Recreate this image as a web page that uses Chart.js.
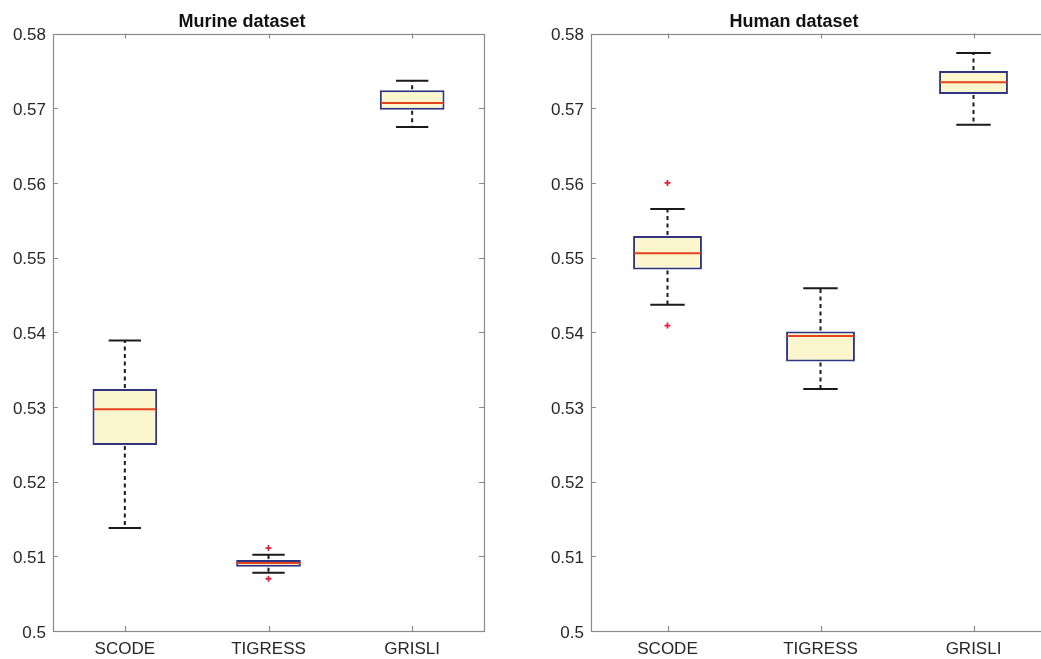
<!DOCTYPE html>
<html>
<head>
<meta charset="utf-8">
<script src="https://cdn.jsdelivr.net/npm/chart.js@4.4.1/dist/chart.umd.min.js"></script>
<style>
  html, body { margin: 0; padding: 0; background: #fff; overflow: hidden; width: 1041px; height: 659px; }
  canvas { position: absolute; top: 0; }
  #murineChart { left: 0; }
  #humanChart { left: 538px; }
</style>
</head>
<body>
<canvas id="murineChart" width="500" height="659"></canvas>
<canvas id="humanChart" width="528" height="659"></canvas>
<script>
const categories = ['SCODE', 'TIGRESS', 'GRISLI'];
const yTicks = [0.5, 0.51, 0.52, 0.53, 0.54, 0.55, 0.56, 0.57, 0.58];

// Murine dataset
const murineLow      = [0.5138, 0.5078, 0.5675];
const murineQ1       = [0.5249, 0.5086, 0.5698];
const murineMedian   = [0.5297, 0.5091, 0.5707];
const murineQ3       = [0.5324, 0.5095, 0.5724];
const murineHigh     = [0.5389, 0.5102, 0.5737];
const murineOutliers = [[], [0.5111, 0.5070], []];

// Human dataset
const humanLow      = [0.5437, 0.5324, 0.5678];
const humanQ1       = [0.5484, 0.5361, 0.5719];
const humanMedian   = [0.5506, 0.5395, 0.5735];
const humanQ3       = [0.5529, 0.5401, 0.5750];
const humanHigh     = [0.5565, 0.5459, 0.5774];
const humanOutliers = [[0.5600, 0.5409], [], []];

const FONT = 'Liberation Sans, Arial, Helvetica, sans-serif';

// whiskers, caps, medians and the matlab style box around the axes
function boxPlugin(low, high, median) {
    return {
        id: 'boxes',
        beforeDatasetsDraw(chart) {
            const ctx = chart.ctx, a = chart.chartArea;
            const xs = chart.scales.x, ys = chart.scales.y;
            ctx.save();
            ctx.strokeStyle = '#8a8a8a';
            ctx.lineWidth = 1.2;
            ctx.strokeRect(Math.round(a.left) + 0.5, Math.round(a.top) + 0.5,
                Math.round(a.right - a.left), Math.round(a.bottom - a.top));
            ctx.beginPath();
            yTicks.forEach(function (v) {
                const y = Math.round(ys.getPixelForValue(v)) + 0.5;
                ctx.moveTo(a.left, y); ctx.lineTo(a.left + 5, y);
                ctx.moveTo(a.right - 5, y); ctx.lineTo(a.right, y);
            });
            categories.forEach(function (c, i) {
                const x = Math.round(xs.getPixelForValue(i)) + 0.5;
                ctx.moveTo(x, a.bottom); ctx.lineTo(x, a.bottom - 5);
                ctx.moveTo(x, a.top); ctx.lineTo(x, a.top + 5);
            });
            ctx.stroke();
            ctx.restore();
        },
        afterDatasetsDraw(chart) {
            const ctx = chart.ctx;
            const xs = chart.scales.x, ys = chart.scales.y;
            const bars = chart.getDatasetMeta(0).data;
            ctx.save();
            categories.forEach(function (c, i) {
                const x = xs.getPixelForValue(i);
                const w = bars[i].width;
                const yQ1 = ys.getPixelForValue(chart.data.datasets[0].data[i][0]);
                const yQ3 = ys.getPixelForValue(chart.data.datasets[0].data[i][1]);
                const yLo = ys.getPixelForValue(low[i]);
                const yHi = ys.getPixelForValue(high[i]);
                const yMed = ys.getPixelForValue(median[i]);

                // dashed whiskers
                ctx.strokeStyle = '#1a1a1a';
                ctx.lineWidth = 2;
                ctx.setLineDash([4, 3.5]);
                ctx.beginPath();
                ctx.moveTo(x, yQ3 - 1); ctx.lineTo(x, yHi);
                ctx.moveTo(x, yQ1 + 1); ctx.lineTo(x, yLo);
                ctx.stroke();

                // caps
                ctx.setLineDash([]);
                ctx.beginPath();
                ctx.moveTo(x - w / 4, yHi); ctx.lineTo(x + w / 4, yHi);
                ctx.moveTo(x - w / 4, yLo); ctx.lineTo(x + w / 4, yLo);
                ctx.stroke();

                // median
                ctx.strokeStyle = '#e5421e';
                ctx.lineWidth = 2;
                ctx.beginPath();
                ctx.moveTo(x - w / 2 + 1, yMed); ctx.lineTo(x + w / 2 - 1, yMed);
                ctx.stroke();
            });
            ctx.restore();
        }
    };
}

function outlierPoints(outliers) {
    let pts = [];
    outliers.forEach(function (list, i) {
        list.forEach(function (v) { pts.push({ x: categories[i], y: v }); });
    });
    return pts;
}

function makeBoxChart(id, title, low, q1, median, q3, high, outliers) {
    new Chart(id, {
        type: 'bar',
        data: {
            labels: categories,
            datasets: [
                {
                    label: title,
                    data: q1.map(function (v, i) { return [v, q3[i]]; }),
                    backgroundColor: '#fcf6cf',
                    borderColor: '#2e3480',
                    borderWidth: 2,
                    borderSkipped: false,
                    barPercentage: 0.45,
                    categoryPercentage: 1
                },
                {
                    type: 'line',
                    label: 'outliers',
                    data: outlierPoints(outliers),
                    showLine: false,
                    pointStyle: 'cross',
                    pointRadius: 3,
                    pointBorderWidth: 1.8,
                    pointBorderColor: '#e3213c',
                    pointBackgroundColor: '#e3213c'
                }
            ]
        },
        options: {
            responsive: false,
            animation: false,
            layout: { padding: { left: 0, right: 16, top: 0, bottom: 0 } },
            plugins: {
                legend: { display: false },
                tooltip: { enabled: false },
                title: {
                    display: true,
                    text: title,
                    color: '#111',
                    font: { family: FONT, size: 18, weight: 'bold' },
                    padding: { top: 11, bottom: 1 }
                }
            },
            scales: {
                x: {
                    grid: { display: false, drawTicks: false },
                    border: { display: false },
                    afterFit: function (scale) { scale.height = 28; },
                    ticks: { color: '#262626', padding: 8, font: { family: FONT, size: 17 } }
                },
                y: {
                    min: 0.5,
                    max: 0.58,
                    grid: { display: false, drawTicks: false },
                    border: { display: false },
                    afterBuildTicks: function (scale) {
                        scale.ticks = yTicks.map(function (v) { return { value: v }; });
                    },
                    afterFit: function (scale) { scale.width = 53; },
                    ticks: {
                        color: '#262626',
                        padding: 7,
                        labelOffset: 2,
                        font: { family: FONT, size: 17 },
                        callback: function (v) { return String(Number(v.toFixed(2))); }
                    }
                }
            }
        },
        plugins: [boxPlugin(low, high, median)]
    });
}

makeBoxChart('murineChart', 'Murine dataset', murineLow, murineQ1, murineMedian, murineQ3, murineHigh, murineOutliers);
makeBoxChart('humanChart', 'Human dataset', humanLow, humanQ1, humanMedian, humanQ3, humanHigh, humanOutliers);
</script>
</body>
</html>
